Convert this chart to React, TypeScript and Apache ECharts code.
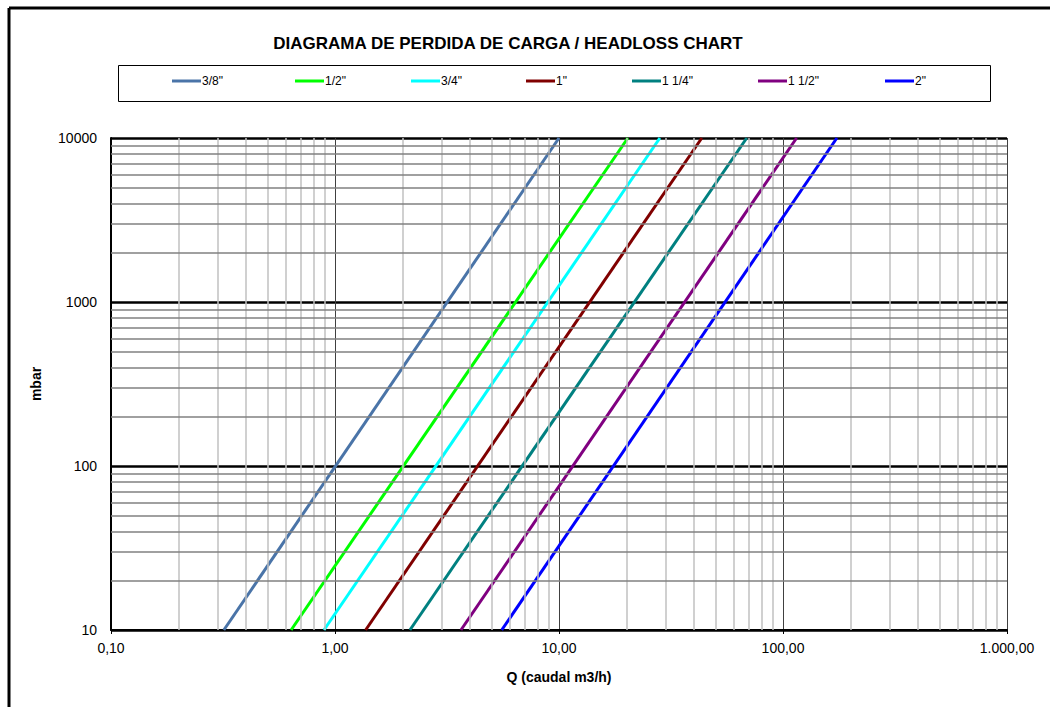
import React, { useEffect, useRef } from "react";
import * as echarts from "echarts";

const titleText = "DIAGRAMA DE PERDIDA DE CARGA / HEADLOSS CHART";
const xName = "Q (caudal m3/h)";
const yName = "mbar";

const seriesNames = ['3/8"', '1/2"', '3/4"', '1"', '1 1/4"', '1 1/2"', '2"'];
const seriesColors = ["#4A74A8", "#00FF00", "#00FFFF", "#800000", "#008080", "#800080", "#0000FF"];

// [Q, mbar] endpoints (straight lines on log-log)
const s38 = [[0.319, 10], [10.0, 10000]];
const s12 = [[0.637, 10], [20.3, 10000]];
const s34 = [[0.893, 10], [28.2, 10000]];
const s1 = [[1.37, 10], [43.4, 10000]];
const s114 = [[2.16, 10], [68.9, 10000]];
const s112 = [[3.65, 10], [115, 10000]];
const s2 = [[5.55, 10], [174, 10000]];
const seriesData = [s38, s12, s34, s1, s114, s112, s2];

const xTickValues = [0.1, 1, 10, 100, 1000];
const xTickLabels = ["0,10", "1,00", "10,00", "100,00", "1.000,00"];
const yTickValues = [10, 100, 1000, 10000];
const yTickLabels = ["10", "100", "1000", "10000"];

const xDecades = [0.1, 1, 10, 100];
const yDecades = [10, 100, 1000];
const minorMultipliers = [2, 3, 4, 5, 6, 7, 8, 9];

const legendLefts = [172, 295, 411, 526, 632, 758, 885];

export default function App() {
  const ref = useRef<HTMLDivElement>(null);
  useEffect(() => {
    if (!ref.current) return;
    const chart = echarts.init(ref.current, null, { renderer: "svg" });
    const font = "Liberation Sans, Arial, sans-serif";

    const xMinor: any[] = [];
    xDecades.forEach((d) => minorMultipliers.forEach((m) => xMinor.push({ xAxis: m * d })));
    const yMinor: any[] = [];
    yDecades.forEach((d) => minorMultipliers.forEach((m) => yMinor.push({ yAxis: m * d })));

    const fmt = (vals: number[], labels: string[]) => (v: number) => {
      let best = 0;
      for (let i = 0; i < vals.length; i++) {
        if (Math.abs(Math.log10(vals[i]) - Math.log10(v)) < Math.abs(Math.log10(vals[best]) - Math.log10(v))) best = i;
      }
      return labels[best];
    };

    const option: any = {
      animation: false,
      backgroundColor: "#ffffff",
      grid: { left: 111, right: 43, top: 138, bottom: 77, containLabel: false },
      legend: seriesNames.map((n, i) => ({
        data: [n],
        left: legendLefts[i],
        top: 75,
        padding: 0,
        itemWidth: 29,
        itemHeight: 3,
        icon: "rect",
        textStyle: { fontSize: 12, fontFamily: font, color: "#000", padding: [0, 0, 0, -4] },
        selectedMode: false,
      })),
      xAxis: {
        type: "log",
        logBase: 10,
        min: 0.1,
        max: 1000,
        name: xName,
        nameLocation: "middle",
        nameGap: 40,
        nameTextStyle: { fontSize: 14, fontWeight: "bold", fontFamily: font, color: "#000" },
        axisLine: { show: true, onZero: false, lineStyle: { color: "#000", width: 2 } },
        axisTick: { show: true, length: 4, lineStyle: { color: "#000", width: 1 } },
        axisLabel: { fontSize: 14, fontFamily: font, color: "#000", margin: 11, formatter: fmt(xTickValues, xTickLabels) },
        splitLine: { show: true, lineStyle: { color: "#404040", width: 1 } },
      },
      yAxis: {
        type: "log",
        logBase: 10,
        min: 10,
        max: 10000,
        name: yName,
        nameLocation: "middle",
        nameGap: 68,
        nameRotate: 90,
        nameTextStyle: { fontSize: 14, fontWeight: "bold", fontFamily: font, color: "#000" },
        axisLine: { show: true, onZero: false, lineStyle: { color: "#000", width: 2 } },
        axisTick: { show: false },
        axisLabel: { fontSize: 14, fontFamily: font, color: "#000", margin: 14, formatter: fmt(yTickValues, yTickLabels) },
        splitLine: { show: true, lineStyle: { color: "#000", width: 2.5 } },
      },
      graphic: [
        { type: "line", shape: { x1: 9, y1: 8, x2: 1050, y2: 8 }, style: { stroke: "#000", lineWidth: 3 } },
        { type: "line", shape: { x1: 9, y1: 8, x2: 9, y2: 707 }, style: { stroke: "#000", lineWidth: 3 } },
        {
          type: "text",
          x: 508,
          y: 43,
          style: {
            text: titleText,
            fontSize: 17,
            fontWeight: "bold",
            fontFamily: font,
            fill: "#000",
            textAlign: "center",
            textVerticalAlign: "middle",
          },
        },
        {
          type: "rect",
          shape: { x: 118.5, y: 65.5, width: 872, height: 36 },
          style: { fill: "none", stroke: "#000", lineWidth: 1 },
          z: -1,
        },
      ],
      series: [
        {
          type: "line",
          data: [],
          silent: true,
          z: 1,
          markLine: {
            silent: true,
            symbol: "none",
            label: { show: false },
            lineStyle: { color: "#c0c0c0", width: 1.5, type: "solid" },
            data: xMinor,
          },
        },
        {
          type: "line",
          data: [],
          silent: true,
          z: 1,
          markLine: {
            silent: true,
            symbol: "none",
            label: { show: false },
            lineStyle: { color: "#808080", width: 1.5, type: "solid" },
            data: yMinor,
          },
        },
        ...seriesNames.map((n, i) => ({
          name: n,
          type: "line",
          data: seriesData[i],
          symbol: "none",
          z: 3,
          lineStyle: { color: seriesColors[i], width: 3 },
          itemStyle: { color: seriesColors[i] },
        })),
      ],
    };
    chart.setOption(option);
    return () => chart.dispose();
  }, []);
  return <div ref={ref} style={{ position: "absolute", left: 0, top: 0, width: 1050, height: 707 }} />;
}
